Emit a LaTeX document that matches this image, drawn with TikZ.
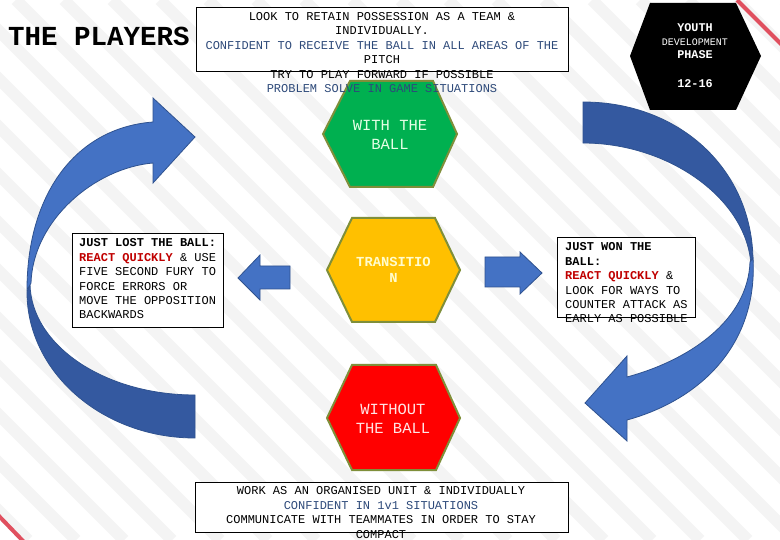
\documentclass[tikz,border=0pt]{standalone}
\usepackage{fontspec}
\setmainfont{Liberation Mono}
\usepackage{tikz}
\usetikzlibrary{positioning}
\definecolor{PlayBlue}{HTML}{4472C4}
\definecolor{PlayBlueDark}{HTML}{3459A0}
\definecolor{PlayEdge}{HTML}{2F528F}
\definecolor{HexEdge}{HTML}{7F8F3A}
\definecolor{HexGreen}{HTML}{00B050}
\definecolor{HexYellow}{HTML}{FFC000}
\definecolor{HexRed}{HTML}{FF0000}
\definecolor{TextBlue}{HTML}{2E4A7A}
\definecolor{QuickRed}{HTML}{C00000}
\definecolor{StripeGray}{HTML}{F4F4F4}
\definecolor{CornerRed}{HTML}{E0505F}

\begin{document}
\begin{tikzpicture}[x=1pt,y=-1pt,
    hexa/.style={draw=HexEdge,line width=2pt,line join=miter},
    hexlabel/.style={align=center,inner sep=0pt,
                     font=\fontsize{15.5}{19}\selectfont},
    infobox/.style={draw=black,line width=0.8pt,fill=white,inner sep=0pt},
    infotext/.style={inner sep=0pt,font=\fontsize{12}{14.4}\selectfont},
    blockarrow/.style={fill=PlayBlue,draw=PlayEdge,line width=0.8pt},
    backarrow/.style={fill=PlayBlueDark,draw=PlayEdge,line width=0.8pt},
    phase/.style={inner sep=0pt,text=white,font=\bfseries\fontsize{11.8}{14}\selectfont}]

    % background with faint stripes
    \useasboundingbox (0,0) rectangle (780,540);
    \fill[white] (0,0) rectangle (780,540);
    \begin{scope}
      \clip (0,0) rectangle (780,540);
      \foreach \k in {-560,-512,...,800}
        \draw[StripeGray,line width=12pt] (\k,0) -- (\k+540,540);
      \draw[CornerRed,line width=4pt] (737,0) -- (782,45);
      \draw[CornerRed,line width=4pt] (-2,515) -- (24,542);
    \end{scope}

    % curved arrow, left side
    \draw[backarrow] (195,395) .. controls (104,395) and (31,345) .. (30,284)
      -- (27,292) .. controls (27,372) and (102,438) .. (195,438) -- cycle;
    \draw[blockarrow] (27,290) .. controls (27,195) and (75,128) .. (153,122)
      -- (153,98) -- (195,137) -- (153,183) -- (153,163)
      .. controls (95,168) and (33,220) .. (31,283) -- cycle;

    % curved arrow, right side
    \draw[backarrow] (583,102) .. controls (680,102) and (753,170) .. (753,262)
      -- (751,266) .. controls (748,200) and (670,143) .. (583,143) -- cycle;
    \draw[blockarrow] (753,258) .. controls (758,345) and (700,400) .. (627,420)
      -- (627,441) -- (585,403) -- (627,356) -- (627,377)
      .. controls (690,360) and (748,320) .. (750,262) -- cycle;

    % straight arrows
    \draw[blockarrow] (290,266) -- (260,266) -- (260,255) -- (238,278)
      -- (260,300) -- (260,289) -- (290,289) -- cycle;
    \draw[blockarrow] (485,257) -- (520,257) -- (520,252) -- (542,273)
      -- (520,294) -- (520,287) -- (485,287) -- cycle;

    % title
    \node[anchor=west,inner sep=0pt,font=\bfseries\fontsize{27.5}{30}\selectfont]
      (title) at (8,36) {THE PLAYERS};

    % phase hexagons
    \draw[hexa,fill=HexGreen] (323,134) -- (350,81) -- (433,81) -- (457,134)
      -- (433,187) -- (350,187) -- cycle;
    \node[hexlabel,text=green!10!white] (withball) at (390,134.5) {WITH THE\\BALL};

    \draw[hexa,fill=HexYellow] (327,270) -- (352,218) -- (435,218) -- (460,270)
      -- (435,322) -- (352,322) -- cycle;
    \node[hexlabel,text=yellow!20!white,
          font=\bfseries\fontsize{13.8}{16}\selectfont] (transition) at (393.5,270)
      {TRANSITIO\\N};

    \draw[hexa,fill=HexRed] (327,418) -- (352,365) -- (436,365) -- (460,418)
      -- (436,470) -- (352,470) -- cycle;
    \node[hexlabel,text=red!10!white] (noball) at (393,419) {WITHOUT\\THE BALL};

    % text boxes
    \node[infobox,minimum width=372pt,minimum height=64pt] (topbox) at (382,39) {};
    \node[infotext,align=center] (toptext) at (382,52.5)
      {LOOK TO RETAIN POSSESSION AS A TEAM \&\\
       INDIVIDUALLY.\\
       \color{TextBlue}CONFIDENT TO RECEIVE THE BALL IN ALL AREAS OF THE\\
       PITCH\\
       TRY TO PLAY FORWARD IF POSSIBLE\\
       \color{TextBlue}PROBLEM SOLVE IN GAME SITUATIONS};

    \node[infobox,minimum width=151pt,minimum height=94pt] (lostbox) at (147.5,280) {};
    \node[infotext,align=left,anchor=west] (losttext) at (79,279)
      {\textbf{JUST LOST THE BALL:}\\
       \textbf{\color{QuickRed}REACT QUICKLY} \& USE\\
       FIVE SECOND FURY TO\\
       FORCE ERRORS OR\\
       MOVE THE OPPOSITION\\
       BACKWARDS};

    \node[infobox,minimum width=138pt,minimum height=80pt] (wonbox) at (626,277) {};
    \node[infotext,align=left,anchor=west] (wontext) at (565,283)
      {\textbf{JUST WON THE}\\
       \textbf{BALL:}\\
       \textbf{\color{QuickRed}REACT QUICKLY} \&\\
       LOOK FOR WAYS TO\\
       COUNTER ATTACK AS\\
       EARLY AS POSSIBLE};

    \node[infobox,minimum width=373pt,minimum height=50pt] (withoutbox) at (381.5,507) {};
    \node[infotext,align=center] (withouttext) at (381,512.5)
      {WORK AS AN ORGANISED UNIT \& INDIVIDUALLY\\
       \color{TextBlue}CONFIDENT IN 1v1 SITUATIONS\\
       COMMUNICATE WITH TEAMMATES IN ORDER TO STAY\\
       COMPACT};

    % youth development badge
    \fill[black] (630,56) -- (650,3) -- (736,3) -- (761,56)
      -- (736,110) -- (650,110) -- cycle;
    \node[phase] (youth) at (695,28) {YOUTH};
    \node[phase,font=\fontsize{10}{12}\selectfont] (devel) at (695,42) {DEVELOPMENT};
    \node[phase] (phasename) at (695,55) {PHASE};
    \node[phase] (ages) at (695,84) {12-16};
\end{tikzpicture}
\end{document}
